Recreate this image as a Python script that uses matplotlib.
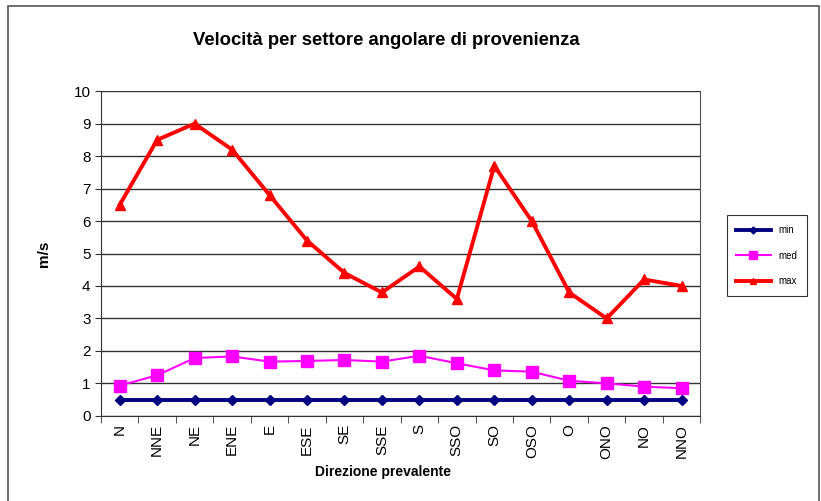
import matplotlib.pyplot as plt
from matplotlib.patches import Rectangle

plt.rcParams["font.family"] = ["Liberation Sans", "DejaVu Sans"]

# direzioni e velocita (m/s)
direzioni = ["N", "NNE", "NE", "ENE", "E", "ESE", "SE", "SSE",
             "S", "SSO", "SO", "OSO", "O", "ONO", "NO", "NNO"]
v_min = [0.5, 0.5, 0.5, 0.5, 0.5, 0.5, 0.5, 0.5,
         0.5, 0.5, 0.5, 0.5, 0.5, 0.5, 0.5, 0.5]
v_med = [0.93, 1.25, 1.78, 1.83, 1.67, 1.69, 1.72, 1.67,
         1.85, 1.62, 1.40, 1.36, 1.08, 1.00, 0.90, 0.85]
v_max = [6.5, 8.5, 9.0, 8.2, 6.8, 5.4, 4.4, 3.8,
         4.6, 3.6, 7.7, 6.0, 3.8, 3.0, 4.2, 4.0]

fig = plt.figure(figsize=(8.21, 5.01), dpi=100)
ax = fig.add_axes([0.123, 0.170, 0.730, 0.648])

# cornice del grafico
fig.patches.append(Rectangle((0.010, -0.01), 0.987, 0.998, transform=fig.transFigure,
                             fill=False, edgecolor="#555555", linewidth=1.2))

x = range(len(direzioni))
ax.plot(x, v_min, color="#000080", linewidth=2.8, marker="D", markersize=5, label="min")
ax.plot(x, v_med, color="#ff00ff", linewidth=1.5, marker="s", markersize=8, label="med")
ax.plot(x, v_max, color="#ff0000", linewidth=2.8, marker="^", markersize=7, label="max")

ax.set_xlim(-0.5, len(direzioni) - 0.5)
ax.set_ylim(0, 10)
ax.set_yticks(range(0, 11))
ax.yaxis.grid(True, color="#333333", linewidth=1)
ax.set_axisbelow(True)

ax.set_xticks(list(x))
ax.set_xticklabels(direzioni, rotation=90, fontsize=11)
ax.tick_params(axis="x", length=0, pad=6)
ax.set_xticks([i - 0.5 for i in range(len(direzioni) + 1)], minor=True)
ax.tick_params(axis="x", which="minor", length=5, direction="out", color="#333333")
ax.tick_params(axis="y", labelsize=11, length=4, color="#333333")

ax.spines["top"].set_visible(False)
ax.spines["right"].set_color("#555555")
ax.spines["left"].set_color("#333333")
ax.spines["bottom"].set_color("#333333")

ax.set_ylabel("m/s", fontsize=11, fontweight="bold", labelpad=16)
ax.set_xlabel("Direzione prevalente", fontsize=10, fontweight="bold", labelpad=4)
ax.xaxis.set_label_coords(0.47, -0.15)
fig.suptitle("Velocità per settore angolare di provenienza", x=0.47, y=0.937,
             fontsize=13.3, fontweight="bold")

leg = ax.legend(loc="center", bbox_to_anchor=(0.934, 0.49), bbox_transform=fig.transFigure,
                fontsize=7, frameon=True, fancybox=False, edgecolor="black",
                handlelength=3.5, labelspacing=1.6, borderpad=1.0, markerscale=0.7)
leg.get_frame().set_linewidth(0.8)

fig.savefig("out.png", dpi=100)
